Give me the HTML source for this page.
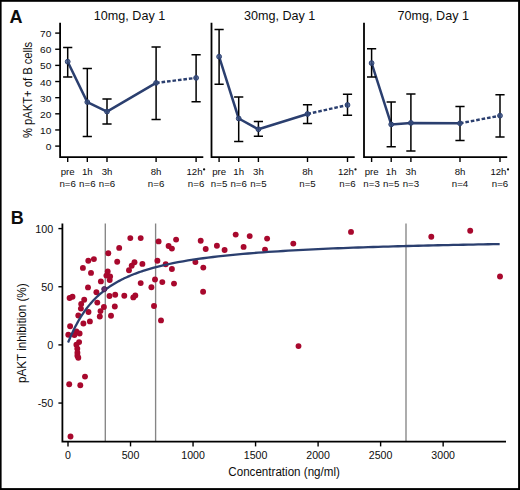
<!DOCTYPE html><html><head><meta charset="utf-8"><style>html,body{margin:0;padding:0;background:#fff;overflow:hidden;}svg{display:block;}text{font-family:"Liberation Sans", sans-serif;fill:#0d0d0d;}</style></head><body>
<svg width="520" height="490" viewBox="0 0 520 490">
<rect x="0" y="0" width="520" height="490" fill="#fff"/>
<text x="9.6" y="22.6" style="font-weight:bold;font-size:18px">A</text>
<text x="0" y="20.3" text-anchor="middle" style="font-size:12px" transform="translate(129.5,0) scale(1.05,1)">10mg, Day 1</text>
<path d="M60.1 22.7 V157.2 H203.29999999999998" fill="none" stroke="#000" stroke-width="1.8" stroke-linejoin="miter"/>
<line x1="67.7" y1="157.2" x2="67.7" y2="162" stroke="#000" stroke-width="1.4"/>
<text x="0" y="175.2" text-anchor="middle" style="font-size:9px" transform="translate(67.7,0) scale(1.07,1)">pre</text>
<text x="0" y="186.8" text-anchor="middle" style="font-size:9px" transform="translate(67.7,0) scale(1.08,1)">n=6</text>
<line x1="87.3" y1="157.2" x2="87.3" y2="162" stroke="#000" stroke-width="1.4"/>
<text x="0" y="175.2" text-anchor="middle" style="font-size:9px" transform="translate(87.3,0) scale(1.07,1)">1h</text>
<text x="0" y="186.8" text-anchor="middle" style="font-size:9px" transform="translate(87.3,0) scale(1.08,1)">n=6</text>
<line x1="107.0" y1="157.2" x2="107.0" y2="162" stroke="#000" stroke-width="1.4"/>
<text x="0" y="175.2" text-anchor="middle" style="font-size:9px" transform="translate(107.0,0) scale(1.07,1)">3h</text>
<text x="0" y="186.8" text-anchor="middle" style="font-size:9px" transform="translate(107.0,0) scale(1.08,1)">n=6</text>
<line x1="156.1" y1="157.2" x2="156.1" y2="162" stroke="#000" stroke-width="1.4"/>
<text x="0" y="175.2" text-anchor="middle" style="font-size:9px" transform="translate(156.1,0) scale(1.07,1)">8h</text>
<text x="0" y="186.8" text-anchor="middle" style="font-size:9px" transform="translate(156.1,0) scale(1.08,1)">n=6</text>
<line x1="196.1" y1="157.2" x2="196.1" y2="162" stroke="#000" stroke-width="1.4"/>
<text x="0" y="175.2" text-anchor="middle" style="font-size:9px" transform="translate(194.50,0) scale(1.07,1)">12h</text>
<circle cx="204.10" cy="169.4" r="1.15" fill="#111"/>
<text x="0" y="186.8" text-anchor="middle" style="font-size:9px" transform="translate(196.1,0) scale(1.08,1)">n=6</text>
<polyline points="67.7,61.7 87.3,102.1 107.0,111.6 156.1,82.9" fill="none" stroke="#2b3f6f" stroke-width="2.5" stroke-linejoin="round"/>
<line x1="156.1" y1="82.9" x2="196.1" y2="77.9" stroke="#2b3f6f" stroke-width="2.4" stroke-dasharray="3.6 1.9"/>
<path d="M67.7 47.4 V77.0 M63.1 47.4 H72.3 M63.1 77.0 H72.3" stroke="#000" stroke-width="1.5" fill="none"/>
<path d="M87.3 68.5 V136.6 M82.7 68.5 H91.89999999999999 M82.7 136.6 H91.89999999999999" stroke="#000" stroke-width="1.5" fill="none"/>
<path d="M107.0 99.1 V123.9 M102.4 99.1 H111.6 M102.4 123.9 H111.6" stroke="#000" stroke-width="1.5" fill="none"/>
<path d="M156.1 46.9 V119.5 M151.5 46.9 H160.7 M151.5 119.5 H160.7" stroke="#000" stroke-width="1.5" fill="none"/>
<path d="M196.1 54.7 V101.7 M191.5 54.7 H200.7 M191.5 101.7 H200.7" stroke="#000" stroke-width="1.5" fill="none"/>
<circle cx="67.7" cy="61.7" r="2.4" fill="#3c5488" fill-opacity="0.8" stroke="#2b3f6f" stroke-width="1.0"/>
<circle cx="87.3" cy="102.1" r="2.4" fill="#3c5488" fill-opacity="0.8" stroke="#2b3f6f" stroke-width="1.0"/>
<circle cx="107.0" cy="111.6" r="2.4" fill="#3c5488" fill-opacity="0.8" stroke="#2b3f6f" stroke-width="1.0"/>
<circle cx="156.1" cy="82.9" r="2.4" fill="#3c5488" fill-opacity="0.8" stroke="#2b3f6f" stroke-width="1.0"/>
<circle cx="196.1" cy="77.9" r="2.4" fill="#3c5488" fill-opacity="0.8" stroke="#2b3f6f" stroke-width="1.0"/>
<text x="0" y="20.3" text-anchor="middle" style="font-size:12px" transform="translate(279.6,0) scale(1.05,1)">30mg, Day 1</text>
<path d="M211.5 22.7 V157.2 H354.7" fill="none" stroke="#000" stroke-width="1.8" stroke-linejoin="miter"/>
<line x1="219.1" y1="157.2" x2="219.1" y2="162" stroke="#000" stroke-width="1.4"/>
<text x="0" y="175.2" text-anchor="middle" style="font-size:9px" transform="translate(219.1,0) scale(1.07,1)">pre</text>
<text x="0" y="186.8" text-anchor="middle" style="font-size:9px" transform="translate(219.1,0) scale(1.08,1)">n=5</text>
<line x1="238.7" y1="157.2" x2="238.7" y2="162" stroke="#000" stroke-width="1.4"/>
<text x="0" y="175.2" text-anchor="middle" style="font-size:9px" transform="translate(238.7,0) scale(1.07,1)">1h</text>
<text x="0" y="186.8" text-anchor="middle" style="font-size:9px" transform="translate(238.7,0) scale(1.08,1)">n=6</text>
<line x1="258.4" y1="157.2" x2="258.4" y2="162" stroke="#000" stroke-width="1.4"/>
<text x="0" y="175.2" text-anchor="middle" style="font-size:9px" transform="translate(258.4,0) scale(1.07,1)">3h</text>
<text x="0" y="186.8" text-anchor="middle" style="font-size:9px" transform="translate(258.4,0) scale(1.08,1)">n=5</text>
<line x1="307.5" y1="157.2" x2="307.5" y2="162" stroke="#000" stroke-width="1.4"/>
<text x="0" y="175.2" text-anchor="middle" style="font-size:9px" transform="translate(307.5,0) scale(1.07,1)">8h</text>
<text x="0" y="186.8" text-anchor="middle" style="font-size:9px" transform="translate(307.5,0) scale(1.08,1)">n=5</text>
<line x1="347.5" y1="157.2" x2="347.5" y2="162" stroke="#000" stroke-width="1.4"/>
<text x="0" y="175.2" text-anchor="middle" style="font-size:9px" transform="translate(345.90,0) scale(1.07,1)">12h</text>
<circle cx="355.50" cy="169.4" r="1.15" fill="#111"/>
<text x="0" y="186.8" text-anchor="middle" style="font-size:9px" transform="translate(347.5,0) scale(1.08,1)">n=6</text>
<polyline points="219.1,56.7 238.7,118.5 258.4,129.3 307.5,114.0" fill="none" stroke="#2b3f6f" stroke-width="2.5" stroke-linejoin="round"/>
<line x1="307.5" y1="114.0" x2="347.5" y2="105.0" stroke="#2b3f6f" stroke-width="2.4" stroke-dasharray="3.6 1.9"/>
<path d="M219.1 29.5 V84.3 M214.5 29.5 H223.7 M214.5 84.3 H223.7" stroke="#000" stroke-width="1.5" fill="none"/>
<path d="M238.7 97.0 V141.4 M234.1 97.0 H243.29999999999998 M234.1 141.4 H243.29999999999998" stroke="#000" stroke-width="1.5" fill="none"/>
<path d="M258.4 121.6 V136.3 M253.79999999999998 121.6 H263.0 M253.79999999999998 136.3 H263.0" stroke="#000" stroke-width="1.5" fill="none"/>
<path d="M307.5 104.7 V123.6 M302.9 104.7 H312.1 M302.9 123.6 H312.1" stroke="#000" stroke-width="1.5" fill="none"/>
<path d="M347.5 94.3 V115.2 M342.9 94.3 H352.1 M342.9 115.2 H352.1" stroke="#000" stroke-width="1.5" fill="none"/>
<circle cx="219.1" cy="56.7" r="2.4" fill="#3c5488" fill-opacity="0.8" stroke="#2b3f6f" stroke-width="1.0"/>
<circle cx="238.7" cy="118.5" r="2.4" fill="#3c5488" fill-opacity="0.8" stroke="#2b3f6f" stroke-width="1.0"/>
<circle cx="258.4" cy="129.3" r="2.4" fill="#3c5488" fill-opacity="0.8" stroke="#2b3f6f" stroke-width="1.0"/>
<circle cx="307.5" cy="114.0" r="2.4" fill="#3c5488" fill-opacity="0.8" stroke="#2b3f6f" stroke-width="1.0"/>
<circle cx="347.5" cy="105.0" r="2.4" fill="#3c5488" fill-opacity="0.8" stroke="#2b3f6f" stroke-width="1.0"/>
<text x="0" y="20.3" text-anchor="middle" style="font-size:12px" transform="translate(433.3,0) scale(1.05,1)">70mg, Day 1</text>
<path d="M364.0 22.7 V157.2 H507.2" fill="none" stroke="#000" stroke-width="1.8" stroke-linejoin="miter"/>
<line x1="371.6" y1="157.2" x2="371.6" y2="162" stroke="#000" stroke-width="1.4"/>
<text x="0" y="175.2" text-anchor="middle" style="font-size:9px" transform="translate(371.6,0) scale(1.07,1)">pre</text>
<text x="0" y="186.8" text-anchor="middle" style="font-size:9px" transform="translate(371.6,0) scale(1.08,1)">n=3</text>
<line x1="391.2" y1="157.2" x2="391.2" y2="162" stroke="#000" stroke-width="1.4"/>
<text x="0" y="175.2" text-anchor="middle" style="font-size:9px" transform="translate(391.2,0) scale(1.07,1)">1h</text>
<text x="0" y="186.8" text-anchor="middle" style="font-size:9px" transform="translate(391.2,0) scale(1.08,1)">n=5</text>
<line x1="410.9" y1="157.2" x2="410.9" y2="162" stroke="#000" stroke-width="1.4"/>
<text x="0" y="175.2" text-anchor="middle" style="font-size:9px" transform="translate(410.9,0) scale(1.07,1)">3h</text>
<text x="0" y="186.8" text-anchor="middle" style="font-size:9px" transform="translate(410.9,0) scale(1.08,1)">n=3</text>
<line x1="460.0" y1="157.2" x2="460.0" y2="162" stroke="#000" stroke-width="1.4"/>
<text x="0" y="175.2" text-anchor="middle" style="font-size:9px" transform="translate(460.0,0) scale(1.07,1)">8h</text>
<text x="0" y="186.8" text-anchor="middle" style="font-size:9px" transform="translate(460.0,0) scale(1.08,1)">n=4</text>
<line x1="500.0" y1="157.2" x2="500.0" y2="162" stroke="#000" stroke-width="1.4"/>
<text x="0" y="175.2" text-anchor="middle" style="font-size:9px" transform="translate(498.40,0) scale(1.07,1)">12h</text>
<circle cx="508.00" cy="169.4" r="1.15" fill="#111"/>
<text x="0" y="186.8" text-anchor="middle" style="font-size:9px" transform="translate(500.0,0) scale(1.08,1)">n=6</text>
<polyline points="371.6,63.1 391.2,124.4 410.9,122.9 460.0,123.3" fill="none" stroke="#2b3f6f" stroke-width="2.5" stroke-linejoin="round"/>
<line x1="460.0" y1="123.3" x2="500.0" y2="115.7" stroke="#2b3f6f" stroke-width="2.4" stroke-dasharray="3.6 1.9"/>
<path d="M371.6 48.8 V76.9 M367.0 48.8 H376.20000000000005 M367.0 76.9 H376.20000000000005" stroke="#000" stroke-width="1.5" fill="none"/>
<path d="M391.2 101.9 V146.8 M386.59999999999997 101.9 H395.8 M386.59999999999997 146.8 H395.8" stroke="#000" stroke-width="1.5" fill="none"/>
<path d="M410.9 94.0 V151.0 M406.29999999999995 94.0 H415.5 M406.29999999999995 151.0 H415.5" stroke="#000" stroke-width="1.5" fill="none"/>
<path d="M460.0 106.4 V140.4 M455.4 106.4 H464.6 M455.4 140.4 H464.6" stroke="#000" stroke-width="1.5" fill="none"/>
<path d="M500.0 94.7 V136.9 M495.4 94.7 H504.6 M495.4 136.9 H504.6" stroke="#000" stroke-width="1.5" fill="none"/>
<circle cx="371.6" cy="63.1" r="2.4" fill="#3c5488" fill-opacity="0.8" stroke="#2b3f6f" stroke-width="1.0"/>
<circle cx="391.2" cy="124.4" r="2.4" fill="#3c5488" fill-opacity="0.8" stroke="#2b3f6f" stroke-width="1.0"/>
<circle cx="410.9" cy="122.9" r="2.4" fill="#3c5488" fill-opacity="0.8" stroke="#2b3f6f" stroke-width="1.0"/>
<circle cx="460.0" cy="123.3" r="2.4" fill="#3c5488" fill-opacity="0.8" stroke="#2b3f6f" stroke-width="1.0"/>
<circle cx="500.0" cy="115.7" r="2.4" fill="#3c5488" fill-opacity="0.8" stroke="#2b3f6f" stroke-width="1.0"/>
<line x1="55.2" y1="146.1" x2="60.1" y2="146.1" stroke="#000" stroke-width="1.4"/>
<text x="0" y="150.20" text-anchor="end" style="font-size:9.5px" transform="translate(51.3,0) scale(1.07,1)">0</text>
<line x1="55.2" y1="129.957" x2="60.1" y2="129.957" stroke="#000" stroke-width="1.4"/>
<text x="0" y="134.06" text-anchor="end" style="font-size:9.5px" transform="translate(51.3,0) scale(1.07,1)">10</text>
<line x1="55.2" y1="113.814" x2="60.1" y2="113.814" stroke="#000" stroke-width="1.4"/>
<text x="0" y="117.91" text-anchor="end" style="font-size:9.5px" transform="translate(51.3,0) scale(1.07,1)">20</text>
<line x1="55.2" y1="97.67099999999999" x2="60.1" y2="97.67099999999999" stroke="#000" stroke-width="1.4"/>
<text x="0" y="101.77" text-anchor="end" style="font-size:9.5px" transform="translate(51.3,0) scale(1.07,1)">30</text>
<line x1="55.2" y1="81.52799999999999" x2="60.1" y2="81.52799999999999" stroke="#000" stroke-width="1.4"/>
<text x="0" y="85.63" text-anchor="end" style="font-size:9.5px" transform="translate(51.3,0) scale(1.07,1)">40</text>
<line x1="55.2" y1="65.38499999999999" x2="60.1" y2="65.38499999999999" stroke="#000" stroke-width="1.4"/>
<text x="0" y="69.48" text-anchor="end" style="font-size:9.5px" transform="translate(51.3,0) scale(1.07,1)">50</text>
<line x1="55.2" y1="49.24199999999999" x2="60.1" y2="49.24199999999999" stroke="#000" stroke-width="1.4"/>
<text x="0" y="53.34" text-anchor="end" style="font-size:9.5px" transform="translate(51.3,0) scale(1.07,1)">60</text>
<line x1="55.2" y1="33.09899999999999" x2="60.1" y2="33.09899999999999" stroke="#000" stroke-width="1.4"/>
<text x="0" y="37.20" text-anchor="end" style="font-size:9.5px" transform="translate(51.3,0) scale(1.07,1)">70</text>
<text transform="translate(32.0,89.95) rotate(-90) scale(0.831,1)" text-anchor="middle" style="font-size:13.5px">% pAKT+ of B cells</text>
<text x="10.7" y="223.5" style="font-weight:bold;font-size:18px">B</text>
<line x1="105.30" y1="223.5" x2="105.30" y2="441" stroke="#858585" stroke-width="1.35"/>
<line x1="155.60" y1="223.5" x2="155.60" y2="441" stroke="#858585" stroke-width="1.35"/>
<line x1="406.00" y1="223.5" x2="406.00" y2="441" stroke="#858585" stroke-width="1.35"/>
<circle cx="108.3" cy="253.3" r="2.95" fill="#a8082d"/>
<circle cx="88.3" cy="260.7" r="2.95" fill="#a8082d"/>
<circle cx="93.9" cy="259.1" r="2.95" fill="#a8082d"/>
<circle cx="117.2" cy="261.7" r="2.95" fill="#a8082d"/>
<circle cx="119.2" cy="247.9" r="2.95" fill="#a8082d"/>
<circle cx="82.9" cy="267.9" r="2.95" fill="#a8082d"/>
<circle cx="91.0" cy="272.9" r="2.95" fill="#a8082d"/>
<circle cx="107.7" cy="271.5" r="2.95" fill="#a8082d"/>
<circle cx="106.4" cy="275.6" r="2.95" fill="#a8082d"/>
<circle cx="110.1" cy="276.4" r="2.95" fill="#a8082d"/>
<circle cx="109.7" cy="280.1" r="2.95" fill="#a8082d"/>
<circle cx="100.9" cy="281.4" r="2.95" fill="#a8082d"/>
<circle cx="88.0" cy="287.4" r="2.95" fill="#a8082d"/>
<circle cx="96.4" cy="292.2" r="2.95" fill="#a8082d"/>
<circle cx="69.6" cy="298.0" r="2.95" fill="#a8082d"/>
<circle cx="72.5" cy="296.7" r="2.95" fill="#a8082d"/>
<circle cx="84.2" cy="299.7" r="2.95" fill="#a8082d"/>
<circle cx="109.5" cy="296.0" r="2.95" fill="#a8082d"/>
<circle cx="115.2" cy="294.7" r="2.95" fill="#a8082d"/>
<circle cx="124.3" cy="295.7" r="2.95" fill="#a8082d"/>
<circle cx="81.2" cy="304.0" r="2.95" fill="#a8082d"/>
<circle cx="97.3" cy="302.6" r="2.95" fill="#a8082d"/>
<circle cx="80.9" cy="308.6" r="2.95" fill="#a8082d"/>
<circle cx="103.9" cy="307.0" r="2.95" fill="#a8082d"/>
<circle cx="114.8" cy="306.5" r="2.95" fill="#a8082d"/>
<circle cx="100.5" cy="311.1" r="2.95" fill="#a8082d"/>
<circle cx="88.5" cy="312.0" r="2.95" fill="#a8082d"/>
<circle cx="78.3" cy="315.5" r="2.95" fill="#a8082d"/>
<circle cx="99.8" cy="316.5" r="2.95" fill="#a8082d"/>
<circle cx="111.0" cy="315.7" r="2.95" fill="#a8082d"/>
<circle cx="89.9" cy="321.4" r="2.95" fill="#a8082d"/>
<circle cx="83.4" cy="323.5" r="2.95" fill="#a8082d"/>
<circle cx="70.1" cy="326.2" r="2.95" fill="#a8082d"/>
<circle cx="76.4" cy="331.4" r="2.95" fill="#a8082d"/>
<circle cx="79.6" cy="333.5" r="2.95" fill="#a8082d"/>
<circle cx="68.3" cy="334.7" r="2.95" fill="#a8082d"/>
<circle cx="74.4" cy="335.0" r="2.95" fill="#a8082d"/>
<circle cx="79.1" cy="342.1" r="2.95" fill="#a8082d"/>
<circle cx="76.4" cy="344.8" r="2.95" fill="#a8082d"/>
<circle cx="77.3" cy="348.7" r="2.95" fill="#a8082d"/>
<circle cx="77.4" cy="352.7" r="2.95" fill="#a8082d"/>
<circle cx="77.4" cy="355.8" r="2.95" fill="#a8082d"/>
<circle cx="78.3" cy="357.8" r="2.95" fill="#a8082d"/>
<circle cx="85.0" cy="376.6" r="2.95" fill="#a8082d"/>
<circle cx="69.2" cy="384.3" r="2.95" fill="#a8082d"/>
<circle cx="80.3" cy="385.2" r="2.95" fill="#a8082d"/>
<circle cx="70.5" cy="436.5" r="2.95" fill="#a8082d"/>
<circle cx="130.3" cy="238.1" r="2.95" fill="#a8082d"/>
<circle cx="140.7" cy="238.1" r="2.95" fill="#a8082d"/>
<circle cx="158.6" cy="241.4" r="2.95" fill="#a8082d"/>
<circle cx="176.1" cy="239.6" r="2.95" fill="#a8082d"/>
<circle cx="168.6" cy="246.0" r="2.95" fill="#a8082d"/>
<circle cx="171.9" cy="248.6" r="2.95" fill="#a8082d"/>
<circle cx="157.4" cy="260.7" r="2.95" fill="#a8082d"/>
<circle cx="134.5" cy="262.3" r="2.95" fill="#a8082d"/>
<circle cx="131.7" cy="265.8" r="2.95" fill="#a8082d"/>
<circle cx="129.0" cy="270.2" r="2.95" fill="#a8082d"/>
<circle cx="142.4" cy="263.9" r="2.95" fill="#a8082d"/>
<circle cx="165.7" cy="264.3" r="2.95" fill="#a8082d"/>
<circle cx="171.9" cy="269.0" r="2.95" fill="#a8082d"/>
<circle cx="155.0" cy="279.5" r="2.95" fill="#a8082d"/>
<circle cx="140.7" cy="283.1" r="2.95" fill="#a8082d"/>
<circle cx="162.3" cy="282.1" r="2.95" fill="#a8082d"/>
<circle cx="174.0" cy="283.6" r="2.95" fill="#a8082d"/>
<circle cx="151.4" cy="287.2" r="2.95" fill="#a8082d"/>
<circle cx="133.3" cy="297.4" r="2.95" fill="#a8082d"/>
<circle cx="135.3" cy="295.4" r="2.95" fill="#a8082d"/>
<circle cx="154.0" cy="306.0" r="2.95" fill="#a8082d"/>
<circle cx="161.0" cy="320.4" r="2.95" fill="#a8082d"/>
<circle cx="200.7" cy="240.7" r="2.95" fill="#a8082d"/>
<circle cx="205.7" cy="249.0" r="2.95" fill="#a8082d"/>
<circle cx="216.9" cy="245.7" r="2.95" fill="#a8082d"/>
<circle cx="224.6" cy="250.0" r="2.95" fill="#a8082d"/>
<circle cx="235.7" cy="234.6" r="2.95" fill="#a8082d"/>
<circle cx="249.7" cy="236.1" r="2.95" fill="#a8082d"/>
<circle cx="243.6" cy="246.9" r="2.95" fill="#a8082d"/>
<circle cx="195.4" cy="262.1" r="2.95" fill="#a8082d"/>
<circle cx="203.3" cy="267.6" r="2.95" fill="#a8082d"/>
<circle cx="203.1" cy="291.7" r="2.95" fill="#a8082d"/>
<circle cx="267.1" cy="238.6" r="2.95" fill="#a8082d"/>
<circle cx="265.0" cy="249.6" r="2.95" fill="#a8082d"/>
<circle cx="293.3" cy="243.6" r="2.95" fill="#a8082d"/>
<circle cx="351.0" cy="231.9" r="2.95" fill="#a8082d"/>
<circle cx="431.3" cy="236.7" r="2.95" fill="#a8082d"/>
<circle cx="470.2" cy="230.8" r="2.95" fill="#a8082d"/>
<circle cx="500.0" cy="276.5" r="2.95" fill="#a8082d"/>
<circle cx="298.5" cy="346.1" r="2.95" fill="#a8082d"/>
<polyline points="68.00,342.49 68.50,341.44 69.00,340.31 69.50,339.17 70.00,338.02 70.50,336.89 71.00,335.76 71.50,334.65 72.00,333.56 72.50,332.47 73.00,331.41 73.50,330.36 74.00,329.33 74.50,328.32 75.00,327.32 75.50,326.34 76.00,325.37 76.50,324.43 77.00,323.50 77.50,322.58 78.00,321.68 78.50,320.80 79.00,319.93 79.50,319.08 80.00,318.25 80.50,317.42 81.76,315.43 83.01,313.52 84.26,311.69 85.51,309.94 86.76,308.26 88.01,306.65 89.26,305.11 90.51,303.62 91.76,302.20 93.01,300.83 94.26,299.51 95.51,298.24 96.76,297.02 98.01,295.84 99.26,294.70 100.51,293.60 101.76,292.55 103.01,291.52 104.26,290.54 105.52,289.58 106.77,288.66 108.02,287.77 109.27,286.90 110.52,286.06 111.77,285.25 113.02,284.47 114.27,283.70 115.52,282.96 116.77,282.24 118.02,281.55 119.27,280.87 120.52,280.21 121.77,279.57 123.02,278.95 124.27,278.34 125.52,277.75 126.77,277.18 128.02,276.62 129.27,276.08 130.53,275.55 131.78,275.03 133.03,274.53 134.28,274.04 135.53,273.56 136.78,273.09 138.03,272.64 139.28,272.19 140.53,271.76 141.78,271.33 143.03,270.92 148.03,269.35 153.03,267.91 158.04,266.59 163.04,265.37 168.04,264.25 173.04,263.20 178.04,262.23 183.05,261.33 188.05,260.49 193.05,259.70 198.05,258.96 203.05,258.26 208.06,257.61 213.06,256.99 218.06,256.40 223.06,255.85 228.06,255.33 233.07,254.83 238.07,254.36 243.07,253.91 248.07,253.49 253.07,253.08 258.08,252.69 263.08,252.32 268.08,251.97 273.08,251.63 278.08,251.31 283.09,251.00 288.09,250.70 293.09,250.41 298.09,250.14 303.09,249.87 308.10,249.62 313.10,249.37 318.10,249.13 323.10,248.91 328.10,248.69 333.11,248.47 338.11,248.27 343.11,248.07 348.11,247.88 353.11,247.69 358.12,247.51 363.12,247.34 368.12,247.17 373.12,247.01 378.12,246.85 383.13,246.69 388.13,246.54 393.13,246.40 398.13,246.26 403.13,246.12 408.14,245.99 413.14,245.86 418.14,245.73 423.14,245.61 428.14,245.49 433.15,245.37 438.15,245.26 443.15,245.15 448.15,245.04 453.15,244.93 458.16,244.83 463.16,244.73 468.16,244.63 473.16,244.54 478.16,244.44 483.17,244.35 488.17,244.26 493.17,244.18 498.17,244.09 499.67,244.07" fill="none" stroke="#2b3f6f" stroke-width="2.3" stroke-linejoin="round"/>
<circle cx="104.3" cy="289.1" r="2.6" fill="#66306e" stroke="#3f1f4f" stroke-width="0.9"/>
<path d="M62.4 223.5 V441.6 H506" fill="none" stroke="#000" stroke-width="1.8"/>
<line x1="58.4" y1="228.60" x2="62.4" y2="228.60" stroke="#000" stroke-width="1.4"/>
<text x="53.3" y="232.50" text-anchor="end" style="font-size:10.8px">100</text>
<line x1="58.4" y1="286.75" x2="62.4" y2="286.75" stroke="#000" stroke-width="1.4"/>
<text x="53.3" y="290.65" text-anchor="end" style="font-size:10.8px">50</text>
<line x1="58.4" y1="344.90" x2="62.4" y2="344.90" stroke="#000" stroke-width="1.4"/>
<text x="53.3" y="348.80" text-anchor="end" style="font-size:10.8px">0</text>
<line x1="58.4" y1="403.05" x2="62.4" y2="403.05" stroke="#000" stroke-width="1.4"/>
<text x="53.3" y="406.95" text-anchor="end" style="font-size:10.8px">-50</text>
<line x1="68.00" y1="441.6" x2="68.00" y2="446.4" stroke="#000" stroke-width="1.4"/>
<text x="68.00" y="458.9" text-anchor="middle" style="font-size:10.6px">0</text>
<line x1="130.53" y1="441.6" x2="130.53" y2="446.4" stroke="#000" stroke-width="1.4"/>
<text x="130.53" y="458.9" text-anchor="middle" style="font-size:10.6px">500</text>
<line x1="193.05" y1="441.6" x2="193.05" y2="446.4" stroke="#000" stroke-width="1.4"/>
<text x="193.05" y="458.9" text-anchor="middle" style="font-size:10.6px">1000</text>
<line x1="255.57" y1="441.6" x2="255.57" y2="446.4" stroke="#000" stroke-width="1.4"/>
<text x="255.57" y="458.9" text-anchor="middle" style="font-size:10.6px">1500</text>
<line x1="318.10" y1="441.6" x2="318.10" y2="446.4" stroke="#000" stroke-width="1.4"/>
<text x="318.10" y="458.9" text-anchor="middle" style="font-size:10.6px">2000</text>
<line x1="380.62" y1="441.6" x2="380.62" y2="446.4" stroke="#000" stroke-width="1.4"/>
<text x="380.62" y="458.9" text-anchor="middle" style="font-size:10.6px">2500</text>
<line x1="443.15" y1="441.6" x2="443.15" y2="446.4" stroke="#000" stroke-width="1.4"/>
<text x="443.15" y="458.9" text-anchor="middle" style="font-size:10.6px">3000</text>
<text x="0" y="476.3" text-anchor="middle" style="font-size:13.5px" transform="translate(284.1,0) scale(0.86,1)">Concentration (ng/ml)</text>
<text transform="translate(25.9,333.2) rotate(-90) scale(0.865,1)" text-anchor="middle" style="font-size:13.5px">pAKT inhibition (%)</text>
<rect x="0" y="0" width="1.6" height="490" fill="#000"/><rect x="0" y="0" width="520" height="1.8" fill="#000"/><rect x="518.1" y="0" width="1.9" height="490" fill="#000"/><rect x="0" y="488.1" width="520" height="1.9" fill="#000"/>
</svg></body></html>
